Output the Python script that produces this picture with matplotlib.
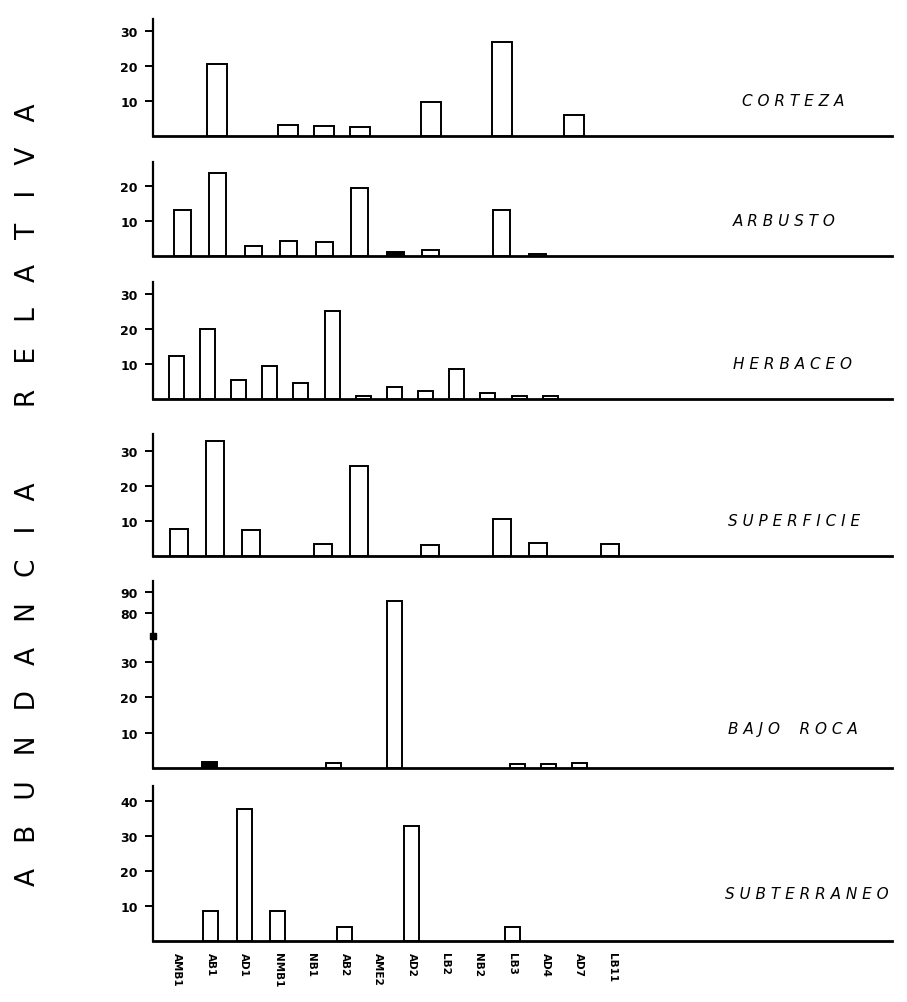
import numpy as np
import matplotlib
matplotlib.use('Agg')
import matplotlib.pyplot as plt

categories = ['AMB1', 'AB1', 'AD1', 'NMB1', 'NB1', 'AB2', 'AME2',
              'AD2', 'LB2', 'NB2', 'LB3', 'AD4', 'AD7', 'LB11']

corteza = [0, 20.6, 0, 3.1, 2.9, 2.7, 0, 9.7, 0, 26.7, 0, 5.9, 0, 0]
arbusto = [13.3, 23.7, 2.9, 4.2, 4.0, 19.4, 1.1, 1.8, 0, 13.3, 0.7, 0, 0, 0]
herbaceo = [12.2, 20.0, 5.4, 9.3, 4.5, 25.2, 0.8, 3.5, 2.4, 8.6, 1.7, 0.9, 0.8, 0]
superficie = [7.6, 32.9, 7.3, 0, 3.3, 25.7, 0, 3.1, 0, 10.5, 3.6, 0, 3.3, 0]
bajo_roca = [0, 1.6, 0, 0, 0, 1.5, 0, 85.5, 0, 0, 0, 1.0, 1.2, 1.5]
subterraneo = [0, 8.7, 37.7, 8.7, 0, 3.9, 0, 32.9, 0, 0, 4.1, 0, 0, 0]

habitats = ['C O R T E Z A', 'A R B U S T O', 'H E R B A C E O',
            'S U P E R F I C I E', 'B A J O    R O C A', 'S U B T E R R A N E O']
series = [corteza, arbusto, herbaceo, superficie, bajo_roca, subterraneo]
yticks = [[10, 20, 30], [10, 20], [10, 20, 30], [10, 20, 30],
          [10, 20, 30, 80, 90], [10, 20, 30, 40]]
ymax = [33.4, 27, 33.4, 34.9, 95, 44.3]
filled = {(1, 'AME2'), (4, 'AB1')}

# pixel layout (top, baseline, first bar centre, spacing, bar width)
W, H = 907, 1003
L, R = 153, 892
layout = [(20, 137, 181, 35.7, 20),
          (163, 257, 182, 35.5, 17),
          (283, 400, 176, 31.2, 15),
          (435, 557, 179, 35.9, 18),
          (582, 769, 179, 30.8, 15),
          (787, 942, 177, 33.5, 15)]
label_pos = [(742, 102), (733, 222), (733, 365), (728, 521), (728, 730), (725, 895)]

# broken axis of BAJO ROCA: 0-30 linear, then 80-90 compressed
knots_v = [0, 30, 80, 90, 100]
knots_d = [0, 30, 44, 50, 56]
def fwd(v):
    return np.interp(v, knots_v, knots_d)
def inv(d):
    return np.interp(d, knots_d, knots_v)

fig = plt.figure(figsize=(W / 100, H / 100), dpi=100)
x = np.arange(len(categories))

for i, vals in enumerate(series):
    top, base, x0, s, bw = layout[i]
    ax = fig.add_axes([L / W, 1 - base / H, (R - L) / W, (base - top) / H])
    vals = np.array(vals)
    m = vals > 0
    faces = ['black' if (i, c) in filled else 'white' for c in categories]
    ax.bar(x[m], vals[m], width=bw / s, color=np.array(faces)[m],
           edgecolor='black', linewidth=1.4, zorder=3)
    a = -(x0 - L) / s
    ax.set_xlim(a, a + (R - L) / s)
    if i == 4:
        ax.set_yscale('function', functions=(fwd, inv))
        ax.plot([a], [56], marker='s', ms=4, color='black', clip_on=False, zorder=5)
    ax.set_ylim(0, ymax[i])
    ax.set_yticks(yticks[i])
    ax.set_yticklabels([str(t) for t in yticks[i]], fontsize=9, fontweight='bold')
    ax.tick_params(axis='y', length=6, width=1.4, pad=5)
    for side in ['top', 'right']:
        ax.spines[side].set_visible(False)
    ax.spines['left'].set_linewidth(1.6)
    ax.spines['bottom'].set_linewidth(2.0)
    ax.patch.set_visible(False)
    if i == len(series) - 1:
        ax.set_xticks(x)
        ax.set_xticklabels(categories, rotation=-90, fontsize=7.5,
                           fontweight='bold', va='top')
        ax.tick_params(axis='x', length=0, pad=8)
    else:
        ax.set_xticks([])
    lx, ly = label_pos[i]
    fig.text(lx / W, 1 - ly / H, habitats[i], fontsize=11, style='italic',
             ha='left', va='center')

fig.text(28 / W, 1 - 495 / H,
         '   '.join('ABUNDANCIA') + ' ' * 9 + '   '.join('RELATIVA'),
         rotation=90, fontsize=19, ha='center', va='center')

plt.savefig('out.png', dpi=100)
